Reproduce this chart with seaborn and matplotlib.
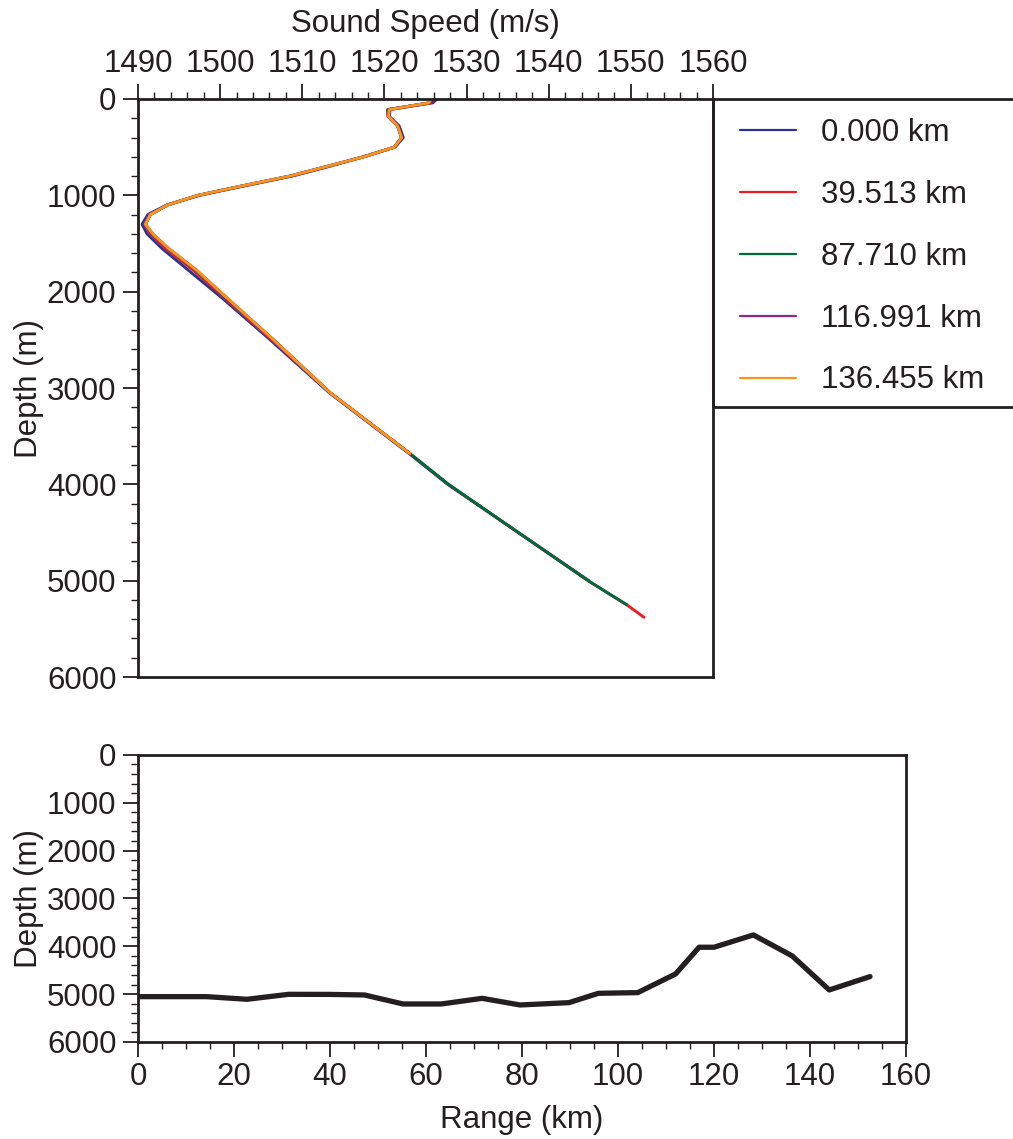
"""Sound speed profiles along a section, with the bathymetry below."""

import matplotlib.pyplot as plt
import pandas as pd
import seaborn as sns
from matplotlib.patches import Rectangle
from matplotlib.ticker import MultipleLocator

# depth grid (m) shared by the profiles
depth_m = [0, 40, 110, 180, 280, 400, 500, 600, 700, 800, 900, 1000, 1100,
           1200, 1300, 1400, 1550, 1775, 2070, 2500, 3050, 3680, 4000, 4500,
           5000, 5250, 5380]

# sound speed (m/s) for each profile, each stops at its own depth
speed_0km = [1526.4, 1525.9, 1520.7, 1520.6, 1521.8, 1522.3, 1521.3, 1517.4,
             1513.3, 1508.8, 1503.1, 1497.5, 1493.5, 1491.2, 1490.5, 1491.1,
             1492.9, 1496.1, 1500.3, 1506.1, 1513.3, 1523.0, 1527.7, 1536.3,
             1544.9]
speed_39km = [1526.0, 1525.6, 1520.4, 1520.4, 1521.6, 1522.1, 1521.2, 1517.5,
              1513.1, 1508.6, 1502.9, 1497.4, 1493.6, 1491.4, 1490.8, 1491.5,
              1493.3, 1496.7, 1500.6, 1506.3, 1513.4, 1523.1, 1527.8, 1536.3,
              1544.8, 1549.5, 1551.6]
speed_87km = [1525.9, 1525.5, 1520.4, 1520.5, 1521.6, 1522.1, 1521.2, 1517.5,
              1513.0, 1508.5, 1502.8, 1497.3, 1493.6, 1491.5, 1490.9, 1491.7,
              1493.6, 1497.0, 1500.8, 1506.5, 1513.4, 1523.1, 1527.8, 1536.3,
              1544.8, 1549.5]
speed_116km = [1525.8, 1525.5, 1520.5, 1520.5, 1521.6, 1522.1, 1521.2, 1517.5,
               1513.0, 1508.5, 1502.8, 1497.3, 1493.6, 1491.5, 1490.9, 1491.8,
               1493.7, 1497.1, 1500.9, 1506.5, 1513.4, 1523.1]
speed_136km = [1525.7, 1525.4, 1520.6, 1520.5, 1521.6, 1522.1, 1521.2, 1517.5,
               1513.0, 1508.5, 1502.8, 1497.3, 1493.6, 1491.5, 1490.9, 1491.8,
               1493.7, 1497.1, 1500.9, 1506.5, 1513.4, 1523.1]

profile_labels = ["0.000 km", "39.513 km", "87.710 km", "116.991 km",
                  "136.455 km"]
profile_colors = ["#2e3192", "#ed1c24", "#00693e", "#92278f", "#f7941d"]

# bathymetry along the section
range_km = [0, 14.3, 22.7, 31.4, 40, 47.2, 55.2, 63.2, 71.7, 79.6, 89.8,
            95.9, 104.1, 112.0, 116.9, 120.0, 128.2, 136.3, 144.0, 152.5]
bottom_depth_m = [5053, 5053, 5108, 5004, 5006, 5018, 5206, 5206, 5088, 5227,
                  5178, 4983, 4969, 4578, 4020, 4020, 3763, 4202, 4913, 4634]

INK = "#231f20"
FS = 22.5

sns.set_theme(style="ticks")
plt.rcParams.update({
    "font.family": ["Liberation Sans", "DejaVu Sans"],
    "font.size": FS,
    "axes.labelsize": FS,
    "text.color": INK,
    "axes.labelcolor": INK,
    "axes.edgecolor": INK,
    "axes.linewidth": 2.0,
    "xtick.color": INK,
    "ytick.color": INK,
    "xtick.labelsize": FS,
    "ytick.labelsize": FS,
    "xtick.major.size": 10.5,
    "ytick.major.size": 10.5,
    "xtick.minor.size": 5,
    "ytick.minor.size": 5,
    "xtick.major.width": 1.3,
    "ytick.major.width": 1.3,
    "xtick.minor.width": 1.0,
    "ytick.minor.width": 1.0,
})

frames = []
for label, speeds in zip(profile_labels, [speed_0km, speed_39km, speed_87km,
                                          speed_116km, speed_136km]):
    frames.append(pd.DataFrame({
        "speed": speeds,
        "depth": depth_m[:len(speeds)],
        "profile": label,
    }))
profiles = pd.concat(frames, ignore_index=True)
bathy = pd.DataFrame({"range": range_km, "depth": bottom_depth_m})

fig = plt.figure(figsize=(10.13, 11.39), dpi=100)
ax1 = fig.add_axes([0.1362, 0.4056, 0.5676, 0.5075])
ax2 = fig.add_axes([0.1362, 0.0852, 0.7582, 0.2520])

# top: sound speed profiles
sns.lineplot(
    data=profiles, x="speed", y="depth", hue="profile",
    hue_order=profile_labels, palette=dict(zip(profile_labels, profile_colors)),
    sort=False, estimator=None, linewidth=2.1, legend=False, ax=ax1,
)
ax1.set_xlim(1490, 1560)
ax1.set_ylim(6000, 0)
ax1.xaxis.set_major_locator(MultipleLocator(10))
ax1.xaxis.set_minor_locator(MultipleLocator(2))
ax1.yaxis.set_major_locator(MultipleLocator(1000))
ax1.yaxis.set_minor_locator(MultipleLocator(200))
ax1.xaxis.tick_top()
ax1.xaxis.set_label_position("top")
ax1.tick_params(axis="x", which="both", top=True, bottom=False, pad=4)
ax1.tick_params(axis="y", which="both", pad=5)
ax1.set_xlabel("Sound Speed (m/s)", labelpad=12)
ax1.set_ylabel("Depth (m)", labelpad=2)

handles = ax1.get_lines()[:len(profile_labels)]
ax1.legend(
    handles, profile_labels, frameon=False, loc="upper left",
    bbox_to_anchor=(740 / 1013, 1 - 118 / 1139),
    bbox_transform=fig.transFigure, borderpad=0, borderaxespad=0,
    handlelength=1.8, handletextpad=0.8, labelspacing=1.02, fontsize=FS,
)
for line in ax1.get_legend().get_lines():
    line.set_linewidth(1.6)

# legend frame hanging off the right of the top panel
fig.add_artist(Rectangle(
    (713 / 1013, 1 - 407 / 1139), 0.4, 308 / 1139,
    transform=fig.transFigure, fill=False, edgecolor=INK, linewidth=2.0,
    clip_on=False,
))

# bottom: bathymetry
sns.lineplot(data=bathy, x="range", y="depth", color=INK, linewidth=3.8,
             sort=False, estimator=None, ax=ax2)
ax2.set_xlim(0, 160)
ax2.set_ylim(6000, 0)
ax2.xaxis.set_major_locator(MultipleLocator(20))
ax2.xaxis.set_minor_locator(MultipleLocator(5))
ax2.yaxis.set_major_locator(MultipleLocator(1000))
ax2.yaxis.set_minor_locator(MultipleLocator(200))
ax2.tick_params(axis="x", which="both", pad=4)
ax2.tick_params(axis="y", which="both", pad=5)
ax2.set_xlabel("Range (km)", labelpad=9)
ax2.set_ylabel("Depth (m)", labelpad=2)

fig.savefig("out.png", dpi=100)
